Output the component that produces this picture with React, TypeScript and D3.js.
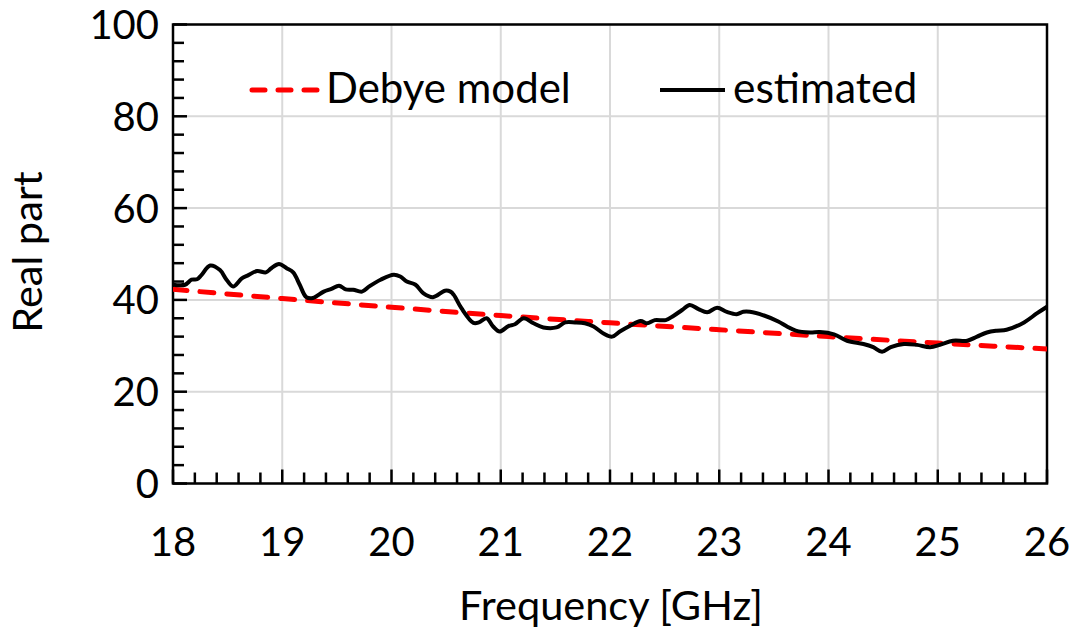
import React from "react";
import * as d3 from "d3";

const estFreq = [18.0, 18.11, 18.17, 18.22, 18.26, 18.34, 18.43, 18.49, 18.55, 18.63, 18.69, 18.77, 18.85, 18.9, 18.97, 19.04, 19.1, 19.16, 19.22, 19.28, 19.38, 19.45, 19.52, 19.58, 19.65, 19.73, 19.8, 19.9, 20.02, 20.08, 20.14, 20.22, 20.29, 20.38, 20.49, 20.54, 20.57, 20.64, 20.75, 20.8, 20.87, 20.93, 20.99, 21.07, 21.13, 21.21, 21.3, 21.39, 21.51, 21.59, 21.68, 21.77, 21.85, 21.94, 22.02, 22.09, 22.18, 22.28, 22.34, 22.41, 22.51, 22.58, 22.66, 22.73, 22.81, 22.89, 22.98, 23.07, 23.16, 23.22, 23.28, 23.41, 23.54, 23.62, 23.7, 23.83, 23.92, 24.05, 24.17, 24.32, 24.41, 24.49, 24.57, 24.69, 24.81, 24.93, 25.02, 25.14, 25.27, 25.36, 25.45, 25.54, 25.63, 25.79, 25.91, 26.0];
const estValue = [43.3, 43.3, 44.4, 44.5, 45.4, 47.5, 46.5, 44.4, 42.9, 44.7, 45.4, 46.3, 46.0, 46.9, 47.8, 46.9, 46.0, 43.3, 40.6, 40.4, 41.8, 42.4, 43.1, 42.3, 42.2, 41.8, 43.0, 44.4, 45.5, 45.1, 44.0, 43.3, 41.5, 40.6, 42.0, 41.8, 41.1, 38.2, 35.0, 35.1, 36.0, 34.2, 33.1, 34.3, 34.7, 36.0, 34.9, 34.0, 34.0, 35.1, 35.1, 34.9, 34.2, 32.7, 32.0, 33.1, 34.3, 35.4, 34.9, 35.6, 35.6, 36.5, 37.8, 38.9, 38.0, 37.3, 38.3, 37.4, 36.9, 37.4, 37.4, 36.6, 35.3, 34.2, 33.3, 32.9, 33.0, 32.5, 31.1, 30.4, 29.7, 28.7, 29.7, 30.4, 30.2, 29.7, 30.2, 31.1, 31.1, 32.0, 32.9, 33.3, 33.5, 35.1, 37.1, 38.5];

const debyeFreq = [18, 19, 20, 21, 22, 23, 24, 25, 26];
const debyeValue = [42.3, 40.3, 38.4, 36.6, 35.0, 33.5, 32.0, 30.6, 29.3];

const xTicks = [18, 19, 20, 21, 22, 23, 24, 25, 26];
const yTicks = [0, 20, 40, 60, 80, 100];
const xMinor = d3.range(18, 26.001, 0.2);
const yMinor = d3.range(0, 100.001, 4);

const seriesNames = ["Debye model", "estimated"];
const xTitle = "Frequency [GHz]";
const yTitle = "Real part";

const W = 1079;
const H = 633;
const L = 173;
const R = 1047;
const T = 24.5;
const B = 483.5;
const FONT = "Lato, 'Open Sans', sans-serif";
const FS = 40;

export default function App() {
  const x = d3.scaleLinear().domain([18, 26]).range([L, R]);
  const y = d3.scaleLinear().domain([0, 100]).range([B, T]);

  const estData = estFreq.map((f, i) => [f, estValue[i]] as [number, number]);
  const debData = debyeFreq.map((f, i) => [f, debyeValue[i]] as [number, number]);

  const estLine = d3
    .line<[number, number]>()
    .x((d) => x(d[0]))
    .y((d) => y(d[1]))
    .curve(d3.curveCatmullRom.alpha(0.5));
  const debLine = d3
    .line<[number, number]>()
    .x((d) => x(d[0]))
    .y((d) => y(d[1]))
    .curve(d3.curveMonotoneX);

  const isMajorX = (v: number) => Math.abs(v - Math.round(v)) < 1e-6;
  const isMajorY = (v: number) => Math.abs(v / 20 - Math.round(v / 20)) < 1e-6;

  return (
    <svg
      width={W}
      height={H}
      style={{ position: "absolute", left: 0, top: 0, display: "block", background: "#fff" }}
      fontFamily={FONT}
    >
      <defs>
        <clipPath id="plotclip">
          <rect x={L} y={T} width={R - L} height={B - T} />
        </clipPath>
      </defs>
      <g stroke="#d9d9d9" strokeWidth={2}>
        {xTicks.map((t) => (
          <line key={"gx" + t} x1={x(t)} x2={x(t)} y1={T} y2={B} />
        ))}
        {yTicks.map((t) => (
          <line key={"gy" + t} x1={L} x2={R} y1={y(t)} y2={y(t)} />
        ))}
      </g>
      <rect x={L} y={T} width={R - L} height={B - T} fill="none" stroke="#000" strokeWidth={2.5} />
      <g stroke="#000" strokeWidth={2.5}>
        {xMinor.map((t, i) => (
          <line key={"tx" + i} x1={x(t)} x2={x(t)} y1={B} y2={B - (isMajorX(t) ? 14 : 11)} />
        ))}
        {yMinor.map((t, i) => (
          <line key={"ty" + i} x1={L} x2={L + (isMajorY(t) ? 14 : 11)} y1={y(t)} y2={y(t)} />
        ))}
      </g>
      <g clipPath="url(#plotclip)">
        <path d={debLine(debData) || ""} fill="none" stroke="#ff0000" strokeWidth={5} strokeDasharray="14 13" strokeLinecap="round" />
        <path d={estLine(estData) || ""} fill="none" stroke="#000" strokeWidth={4} strokeLinejoin="round" />
      </g>
      <g fontSize={FS} fill="#000">
        {xTicks.map((t) => (
          <text key={"lx" + t} x={x(t)} y={556} textAnchor="middle">
            {t}
          </text>
        ))}
        {yTicks.map((t) => (
          <text key={"ly" + t} x={159} y={y(t)} dy="0.36em" textAnchor="end">
            {t}
          </text>
        ))}
      </g>
      <text x={(L + R) / 2 + 1} y={620} textAnchor="middle" fontSize={41.5}>
        {xTitle}
      </text>
      <text transform={`translate(42,252) rotate(-90)`} textAnchor="middle" fontSize={41.5}>
        {yTitle}
      </text>
      <g>
        <line x1={252} x2={318} y1={90} y2={90} stroke="#ff0000" strokeWidth={5} strokeDasharray="13 13" strokeLinecap="round" />
        <text x={326} y={103} fontSize={42}>
          {seriesNames[0]}
        </text>
        <line x1={660} x2={725} y1={90} y2={90} stroke="#000" strokeWidth={4} />
        <text x={733} y={103} fontSize={42.5}>
          {seriesNames[1]}
        </text>
      </g>
    </svg>
  );
}
